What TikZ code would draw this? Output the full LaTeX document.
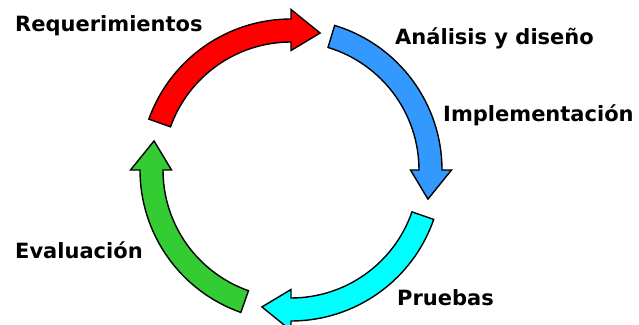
\documentclass[tikz,border=0pt]{standalone}
\usepackage{fontspec}
\setmainfont{DejaVu Sans}
\definecolor{cRed}{HTML}{FF0000}
\definecolor{cBlue}{HTML}{3399FF}
\definecolor{cCyan}{HTML}{00FFFF}
\definecolor{cGreen}{HTML}{33CC33}
\tikzset{
  cyc/.style={draw=black, line width=1.4pt, line join=miter},
  lbl/.style={anchor=base west, inner sep=0pt, text=black, font=\bfseries\fontsize{21}{25}\selectfont}
}
% #1 base angle of head, #2 tail angle, #3 colour
\newcommand\cycarrow[3]{%
  \filldraw[cyc, fill=#3] (#2:151pt) arc[start angle=#2, end angle=#1, radius=151pt]
    -- (#1:160.5pt) -- ({#1-12}:140pt) -- (#1:119.5pt) -- (#1:128pt)
    arc[start angle=#1, end angle=#2, radius=128pt] -- cycle;}
\begin{document}
\begin{tikzpicture}[x=1pt,y=1pt]
\useasboundingbox (0,0) rectangle (639,324);
\begin{scope}[shift={(291,154)}]
  \cycarrow{90}{160.3}{cRed}
  \cycarrow{0}{73.2}{cBlue}
  \cycarrow{-90}{-19.1}{cCyan}
  \cycarrow{180}{250.6}{cGreen}
\end{scope}
\node[lbl] (req) at (15,292) {Requerimientos};
\node[lbl] (ana) at (395,279) {Análisis y diseño};
\node[lbl] (imp) at (443,202) {Implementación};
\node[lbl] (eva) at (15,66) {Evaluación};
\node[lbl] (pru) at (397,19) {Pruebas};
\end{tikzpicture}
\end{document}
